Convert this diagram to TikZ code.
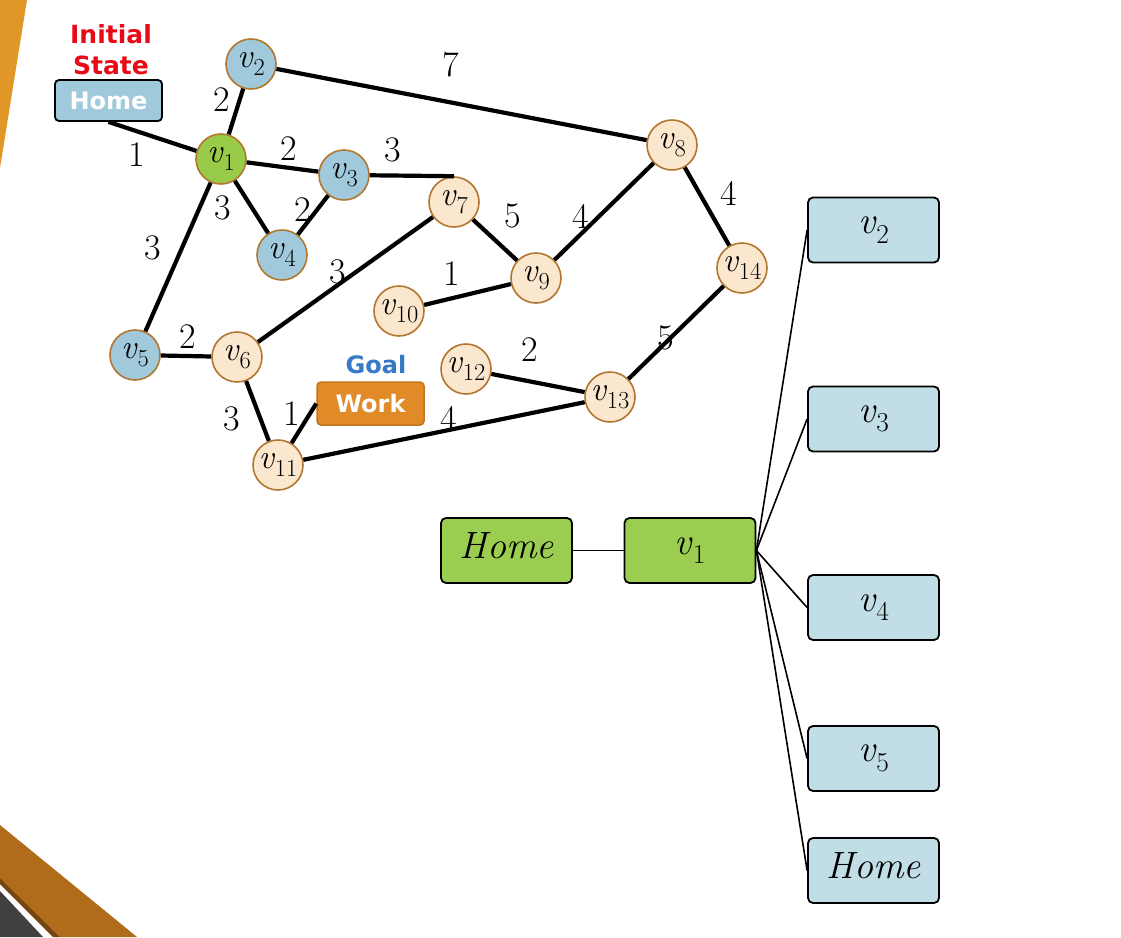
\documentclass[tikz,border=0pt]{standalone}
\usepackage{graphicx}
\usepackage{fontspec}
\newfontfamily\labfont{DejaVu Sans}
\newcommand\vnm[1]{{\itshape v}\kern0.03em\raisebox{-0.25em}{\scalebox{0.72}{#1}}}
\begin{document}
\begin{tikzpicture}[x=1pt,y=-1pt,
  vtx/.style={circle,draw=vbrd,line width=1.6pt,minimum size=50pt,inner sep=0pt,font=\fontsize{34}{36}\selectfont},
  vblue/.style={vtx,fill=vblue},
  vgreen/.style={vtx,fill=vgreen},
  vpeach/.style={vtx,fill=vpeach},
  gedge/.style={line width=4.2pt},
  wlab/.style={font=\fontsize{36}{38}\selectfont,inner sep=0pt},
  tbox/.style={rectangle,rounded corners=5pt,draw=black,line width=1.8pt,minimum width=131pt,minimum height=65pt,inner sep=0pt,font=\fontsize{38}{40}\selectfont},
  tedge/.style={line width=1.6pt},
  sanslab/.style={font=\labfont\bfseries\fontsize{24}{28}\selectfont,inner sep=0pt}]
\definecolor{vbrd}{RGB}{178,118,48}
\definecolor{vblue}{RGB}{160,202,220}
\definecolor{vgreen}{RGB}{152,204,72}
\definecolor{vpeach}{RGB}{250,231,206}
\definecolor{tblue}{RGB}{193,222,230}
\definecolor{tgreen}{RGB}{155,206,80}
\definecolor{orng}{RGB}{225,150,40}
\definecolor{workor}{RGB}{224,139,40}
\definecolor{workbd}{RGB}{196,116,30}
\definecolor{bband}{RGB}{176,108,26}
\definecolor{bshadow}{RGB}{118,70,16}
\definecolor{dgray}{RGB}{64,64,64}
\definecolor{initred}{RGB}{232,10,20}
\definecolor{goalblue}{RGB}{55,120,200}
\definecolor{homebox}{RGB}{160,202,220}

\useasboundingbox (0,0) rectangle (1121,937);
% decorations
\fill[orng] (0,0) -- (27,0) -- (0,168) -- cycle;
\fill[bband] (0,825) -- (137,937) -- (60,937) -- (0,878) -- cycle;
\fill[bshadow] (0,878) -- (60,937) -- (53,937) -- (0,884) -- cycle;
\fill[dgray] (0,891) -- (43,937) -- (0,937) -- cycle;

% labels
\node[sanslab,font=\labfont\bfseries\fontsize{25}{31}\selectfont,text=initred,align=center] (init) at (111,50) {Initial\\State};
\node[sanslab,rectangle,rounded corners=4pt,draw=black,line width=1.8pt,fill=homebox,minimum width=107pt,minimum height=41pt,text=white] (home) at (108.5,100.5) {Home};
\node[sanslab,text=goalblue] (goal) at (376,365) {Goal};
\node[sanslab,rectangle,rounded corners=4pt,draw=workbd,line width=1.5pt,fill=workor,minimum width=107pt,minimum height=43pt,text=white] (work) at (370.5,403.5) {Work};

% vertices
\node[vblue] (v2) at (251,64) {\vnm{2}};
\node[vgreen] (v1) at (221,159) {\vnm{1}};
\node[vblue] (v3) at (344,175) {\vnm{3}};
\node[vblue] (v4) at (282,255) {\vnm{4}};
\node[vpeach] (v7) at (454,202) {\vnm{7}};
\node[vpeach] (v8) at (672,145) {\vnm{8}};
\node[vpeach] (v9) at (536,278) {\vnm{9}};
\node[vpeach] (v14) at (742,268) {\vnm{14}};
\node[vpeach] (v10) at (399,311) {\vnm{10}};
\node[vblue] (v5) at (135,355) {\vnm{5}};
\node[vpeach] (v6) at (237,357) {\vnm{6}};
\node[vpeach] (v11) at (278,465) {\vnm{11}};
\node[vpeach] (v12) at (466,369) {\vnm{12}};
\node[vpeach] (v13) at (610,397) {\vnm{13}};

% graph edges
\draw[gedge] (home.south) -- (v1);
\draw[gedge] (v1) -- (v2);
\draw[gedge] (v2) -- (v8);
\draw[gedge] (v1) -- (v3);
\draw[gedge] (v3) -- (v7.north);
\draw[gedge] (v1) -- (v4);
\draw[gedge] (v3) -- (v4);
\draw[gedge] (v1) -- (v5);
\draw[gedge] (v7) -- (v6);
\draw[gedge] (v7) -- (v9);
\draw[gedge] (v9) -- (v8);
\draw[gedge] (v8) -- (v14);
\draw[gedge] (v10) -- (v9);
\draw[gedge] (v14) -- (v13);
\draw[gedge] (v5) -- (v6);
\draw[gedge] (v6) -- (v11);
\draw[gedge] (v11) -- (work.west);
\draw[gedge] (v11) -- (v13);
\draw[gedge] (v12) -- (v13);

% weights
\node[wlab] (w1) at (137,155) {1};
\node[wlab] (w2) at (222,100) {2};
\node[wlab] (w3) at (451,65) {7};
\node[wlab] (w4) at (289,149) {2};
\node[wlab] (w5) at (393,150) {3};
\node[wlab] (w6) at (223,208) {3};
\node[wlab] (w7) at (303,210) {2};
\node[wlab] (w8) at (153,248) {3};
\node[wlab] (w9) at (338,272) {3};
\node[wlab] (w10) at (513,216) {5};
\node[wlab] (w11) at (581,216) {4};
\node[wlab] (w12) at (729,193) {4};
\node[wlab] (w13) at (452,274) {1};
\node[wlab] (w14) at (666,338) {5};
\node[wlab] (w15) at (188,337) {2};
\node[wlab] (w16) at (232,419) {3};
\node[wlab] (w17) at (292,414) {1};
\node[wlab] (w18) at (449,418) {4};
\node[wlab] (w19) at (530,350) {2};

% tree
\node[tbox,fill=tgreen] (thome) at (506.5,550.5) {\raisebox{9pt}{\itshape Home}};
\node[tbox,fill=tgreen] (tv1) at (690,550.5) {\raisebox{2pt}{\vnm{1}}};
\node[tbox,fill=tblue] (tv2) at (873.5,230) {\raisebox{2pt}{\vnm{2}}};
\node[tbox,fill=tblue] (tv3) at (873.5,419) {\raisebox{2pt}{\vnm{3}}};
\node[tbox,fill=tblue] (tv4) at (873.5,607.5) {\raisebox{2pt}{\vnm{4}}};
\node[tbox,fill=tblue] (tv5) at (873.5,758.5) {\raisebox{2pt}{\vnm{5}}};
\node[tbox,fill=tblue] (th2) at (873.5,870.5) {\raisebox{9pt}{\itshape Home}};
\draw[tedge] (thome.east) -- (tv1.west);
\foreach \t in {tv2,tv3,tv4,tv5,th2} \draw[tedge] (tv1.east) -- (\t.west);
\end{tikzpicture}
\end{document}
